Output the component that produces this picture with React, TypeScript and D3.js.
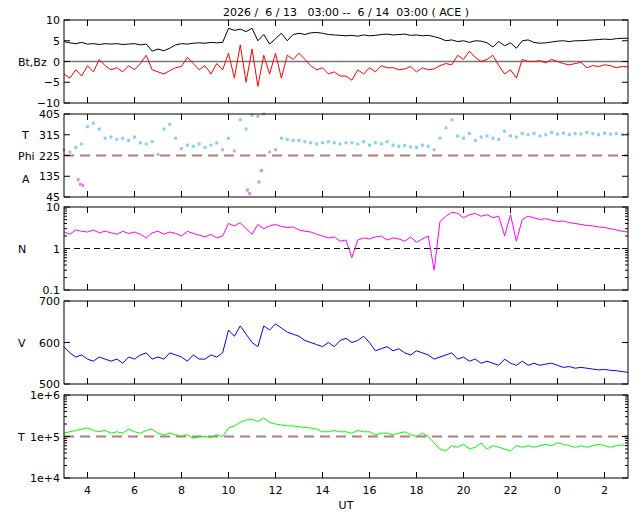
import * as d3 from 'd3';

// 15-minute samples from 03:00 (6/13) to 03:00 (6/14), hours as 3..27
const times = d3.range(97).map(i => 3 + i * 0.25);

const bt = [
  4.8, 4.5, 4.3, 4.6, 4.2, 4.3, 4.1, 4.3,
  4.2, 4.3, 4.1, 4.2, 4.3, 4.0, 4.2, 2.5,
  3.0, 2.6, 3.2, 4.0, 4.3, 4.2, 4.4, 4.5,
  4.4, 4.6, 4.5, 4.6, 8.0, 7.5, 7.8, 7.2,
  8.0, 5.0, 6.5, 4.2, 5.5, 6.8, 5.0, 6.5,
  6.8, 6.5, 6.9, 7.0, 6.8, 6.5, 6.4, 6.3,
  6.2, 6.3, 6.1, 6.4, 6.2, 6.3, 6.5, 6.6,
  6.4, 6.5, 6.6, 6.3, 6.4, 6.2, 6.3, 6.0,
  5.6, 5.0, 5.2, 4.8, 5.0, 4.6, 5.0, 4.9,
  4.5, 3.5, 4.8, 3.8, 4.5, 3.2, 5.0, 5.2,
  4.6, 4.4, 4.5, 4.7, 4.9, 5.0, 4.8, 5.0,
  5.0, 5.1, 5.2, 5.3, 5.4, 5.3, 5.5, 5.6, 5.6,
];

const bz = [
  -3, -4, -2, -3.5, -1, -2.5, 0.5, -1,
  -2, -1.5, -2.5, -1, -2, -0.5, 1.5, -2,
  -2.5, -3, -2.2, -1.5, -1.2, 1.0, -0.5, -2,
  -1, -3, -0.5, -2, 2, -4, 4, -5,
  3, -6, 1.5, -3, 2, -4, 1.5, 0.5,
  2, 0.5, -1, -2, -1.5, -3, -2.5, -3.5,
  -3.5, -4.5, -2, -3, -1.5, -2.5, -1, -1.5,
  -1.5, -2, -1.8, -1.2, -2.5, -1.5, -2, -1.8,
  -1, -0.5, -0.8, 1.5, 0.5, 2.5, 1, 0,
  0.5, 1.5, -1, -3, -2, -4, 0.5, 0,
  0, 0.2, -0.3, 0.5, 0, -0.5, -0.8, -0.5,
  -0.2, -1.5, -1, -1.2, -0.8, -1, -1.5, -1.2, -1.3,
];

const phi = [
  250, 240, 260, 275, 350, 365, 340, 300,
  305, 295, 300, 290, 305, 280, 275, 285,
  230, 340, 360, 300, 255, 270, 265, 275,
  260, 270, 280, 250, 300, 245, 380, 340,
  400, 395, 405, 240, 250, 300, 295, 290,
  290, 285, 280, 275, 280, 285, 280, 275,
  280, 280, 275, 285, 270, 280, 275, 285,
  270, 265, 268, 262, 260, 270, 265, 250,
  300, 345, 380, 310, 300, 320, 290, 305,
  310, 300, 295, 330, 310, 305, 320, 315,
  320, 310, 315, 325, 318, 322, 315, 320,
  318, 325, 320, 315, 322, 318, 320, 315, 318,
];
// extra toward-sector samples
const phiExtraT = [3.6, 3.7, 3.8, 10.8, 10.9, 11.3, 11.4];
const phiExtraV = [120, 100, 95, 75, 60, 110, 160];

const dens = [
  2.5, 2.2, 2.8, 2.6, 2.5, 2.8, 2.4, 2.6,
  2.4, 2.2, 2.6, 2.3, 2.5, 2.2, 1.8, 2.4,
  2.6, 2.2, 2.5, 2.3, 2.0, 2.6, 2.3, 2.1,
  1.9, 2.2, 1.8, 2.0, 4.0, 3.5, 4.2, 3.0,
  2.2, 3.8, 3.0, 3.5, 3.8, 3.4, 3.2, 3.3,
  2.8, 2.6, 2.5, 2.2, 2.0, 1.8, 1.9, 1.5,
  1.6, 0.6, 1.6, 1.8, 1.7, 1.9, 2.0, 1.6,
  1.8, 1.7, 1.5, 1.9, 1.4, 1.7, 2.0, 0.3,
  4.5, 6, 7.5, 7, 5.5, 6.5, 7, 6,
  6.5, 5.5, 6, 2, 6.5, 1.5, 5, 6,
  5.5, 5, 5.2, 4.8, 4.5, 4.6, 4.2, 4,
  3.8, 3.6, 3.5, 3.3, 3.2, 3.0, 2.8, 2.6, 2.5,
];

const speed = [
  590, 575, 565, 570, 560, 555, 565, 560,
  555, 560, 550, 565, 560, 570, 575, 560,
  565, 560, 575, 570, 565, 555, 570, 560,
  560, 570, 565, 575, 630, 615, 640, 620,
  600, 590, 640, 630, 645, 635, 625, 620,
  615, 605, 600, 595, 590, 600, 590, 605,
  610, 600, 605, 615, 600, 580, 585, 590,
  580, 585, 575, 570, 580, 575, 570, 560,
  565, 570, 575, 560, 565, 555, 560, 550,
  555, 550, 545, 560, 550, 545, 555, 545,
  550, 545, 548, 550, 545, 540, 542, 538,
  540, 538, 536, 534, 535, 533, 532, 530, 528,
];

const temp = [
  1.2e5, 1.3e5, 1.4e5, 1.5e5, 1.6e5, 1.4e5, 1.3e5, 1.4e5,
  1.2e5, 1.3e5, 1.2e5, 1.5e5, 1.3e5, 1.2e5, 1.4e5, 1.5e5,
  1.2e5, 1.1e5, 1.2e5, 1.1e5, 1.0e5, 1.1e5, 0.9e5, 1.0e5,
  1.0e5, 0.95e5, 1.1e5, 1.0e5, 1.6e5, 1.8e5, 2.2e5, 2.5e5,
  2.6e5, 2.3e5, 2.8e5, 2.2e5, 2.0e5, 1.9e5, 1.8e5, 1.8e5,
  1.7e5, 1.65e5, 1.6e5, 1.5e5, 1.3e5, 1.3e5, 1.4e5, 1.3e5,
  1.3e5, 1.2e5, 1.4e5, 1.3e5, 1.3e5, 1.1e5, 1.2e5, 1.2e5,
  1.1e5, 1.2e5, 1.3e5, 1.1e5, 1.0e5, 1.2e5, 1.0e5, 0.7e5,
  0.5e5, 0.45e5, 0.6e5, 0.55e5, 0.65e5, 0.5e5, 0.55e5, 0.7e5,
  0.5e5, 0.6e5, 0.55e5, 0.5e5, 0.45e5, 0.6e5, 0.55e5, 0.6e5,
  0.55e5, 0.6e5, 0.65e5, 0.6e5, 0.7e5, 0.65e5, 0.6e5, 0.55e5,
  0.6e5, 0.55e5, 0.6e5, 0.65e5, 0.6e5, 0.55e5, 0.6e5, 0.62e5, 0.6e5,
];

const hourTicks = [4, 6, 8, 10, 12, 14, 16, 18, 20, 22, 24, 26];
const hourLabel = (h: number) => String(h % 24);

const left = 64, right = 628;
const font = 'DejaVu Sans, sans-serif';
const x = d3.scaleLinear().domain([3, 27]).range([left, right]);

function Frame({ top, bottom }: { top: number; bottom: number }) {
  return (
    <g>
      <rect x={left} y={top} width={right - left} height={bottom - top} fill="none" stroke="#000" />
      {hourTicks.map(h => (
        <g key={h}>
          <line x1={x(h)} x2={x(h)} y1={top} y2={top + 6} stroke="#000" />
          <line x1={x(h)} x2={x(h)} y1={bottom} y2={bottom - 6} stroke="#000" />
        </g>
      ))}
    </g>
  );
}

function YTicks({ scale, ticks, labels }: { scale: (v: number) => number; ticks: number[]; labels: string[] }) {
  return (
    <g>
      {ticks.map((t, i) => (
        <g key={i}>
          <line x1={left} x2={left + 6} y1={scale(t)} y2={scale(t)} stroke="#000" />
          <line x1={right} x2={right - 6} y1={scale(t)} y2={scale(t)} stroke="#000" />
          <text x={left - 4} y={scale(t) + 4} textAnchor="end" fontSize={11} fontFamily={font}>{labels[i]}</text>
        </g>
      ))}
    </g>
  );
}

function LogMinor({ scale, decades }: { scale: (v: number) => number; decades: number[] }) {
  const ms: number[] = [];
  decades.forEach(d => { for (let k = 2; k <= 9; k++) ms.push(d * k); });
  return (
    <g>
      {ms.map((m, i) => (
        <g key={i}>
          <line x1={left} x2={left + 3} y1={scale(m)} y2={scale(m)} stroke="#000" />
          <line x1={right} x2={right - 3} y1={scale(m)} y2={scale(m)} stroke="#000" />
        </g>
      ))}
    </g>
  );
}

export default function App() {
  const y1 = d3.scaleLinear().domain([-10, 10]).range([103, 20]);
  const y2 = d3.scaleLinear().domain([45, 405]).range([197, 114]);
  const y3 = d3.scaleLog().domain([0.1, 10]).range([290, 207]);
  const y4 = d3.scaleLinear().domain([500, 700]).range([384, 301]);
  const y5 = d3.scaleLog().domain([1e4, 1e6]).range([478, 395]);

  const ln = (ys: number[], sc: (v: number) => number) =>
    d3.line<number>().x((_, i) => x(times[i])).y(v => sc(v))(ys) || '';

  const phiColor = (v: number) => (v < 180 ? '#ee82ee' : v < 255 || v > 390 ? '#bbbbbb' : '#87cefa');

  return (
    <svg width={640} height={512} style={{ position: 'absolute', left: 0, top: 0, background: '#fff' }}>
      <rect width={640} height={512} fill="#fff" />
      <text x={346} y={16} textAnchor="middle" fontSize={11} fontFamily={font} xmlSpace="preserve">
        {'2026 /  6 / 13   03:00 --  6 / 14  03:00 ( ACE )'}
      </text>

      {/* Panel 1: Bt, Bz */}
      <line x1={left} x2={right} y1={y1(0)} y2={y1(0)} stroke="#777" strokeWidth={1.5} />
      <path d={ln(bz, y1)} fill="none" stroke="#ff0000" strokeWidth={1} />
      <path d={ln(bt, y1)} fill="none" stroke="#000" strokeWidth={1} />
      <Frame top={20} bottom={103} />
      <YTicks scale={y1} ticks={[10, 5, 0, -5, -10]} labels={['10', '5', '0', '−5', '−10']} />
      <text x={18} y={66} fontSize={11} fontFamily={font}>Bt,Bz</text>

      {/* Panel 2: Phi */}
      <line x1={left} x2={right} y1={y2(225)} y2={y2(225)} stroke="#b87b7b" strokeWidth={2} strokeDasharray="10,6" />
      {phi.map((v, i) => (
        <rect key={i} x={x(times[i]) - 1.5} y={y2(v) - 1.5} width={3} height={3} fill={phiColor(v)} />
      ))}
      {phiExtraV.map((v, i) => (
        <rect key={'e' + i} x={x(phiExtraT[i]) - 1.5} y={y2(v) - 1.5} width={3} height={3} fill={phiColor(v)} />
      ))}
      <Frame top={114} bottom={197} />
      <YTicks scale={y2} ticks={[405, 315, 225, 135, 45]} labels={['405', '315', '225', '135', '45']} />
      <text x={22} y={139} fontSize={11} fontFamily={font}>T</text>
      <text x={18} y={160} fontSize={11} fontFamily={font}>Phi</text>
      <text x={22} y={183} fontSize={11} fontFamily={font}>A</text>

      {/* Panel 3: N */}
      <line x1={left} x2={right} y1={y3(1)} y2={y3(1)} stroke="#000" strokeDasharray="6,4" />
      <path d={ln(dens, y3)} fill="none" stroke="#ff00ff" strokeWidth={1} />
      <Frame top={207} bottom={290} />
      <LogMinor scale={y3} decades={[0.1, 1]} />
      <YTicks scale={y3} ticks={[10, 1, 0.1]} labels={['10', '1', '0.1']} />
      <text x={18} y={253} fontSize={11} fontFamily={font}>N</text>

      {/* Panel 4: V */}
      <path d={ln(speed, y4)} fill="none" stroke="#0000ff" strokeWidth={1} />
      <Frame top={301} bottom={384} />
      <YTicks scale={y4} ticks={[700, 600, 500]} labels={['700', '600', '500']} />
      <text x={18} y={347} fontSize={11} fontFamily={font}>V</text>

      {/* Panel 5: T */}
      <line x1={left} x2={right} y1={y5(1e5)} y2={y5(1e5)} stroke="#b87b7b" strokeWidth={2} strokeDasharray="10,6" />
      <path d={ln(temp, y5)} fill="none" stroke="#00ff00" strokeWidth={1} />
      <Frame top={395} bottom={478} />
      <LogMinor scale={y5} decades={[1e4, 1e5]} />
      <YTicks scale={y5} ticks={[1e6, 1e5, 1e4]} labels={['1e+6', '1e+5', '1e+4']} />
      <text x={18} y={441} fontSize={11} fontFamily={font}>T</text>

      {hourTicks.map(h => (
        <text key={h} x={x(h)} y={494} textAnchor="middle" fontSize={11} fontFamily={font}>{hourLabel(h)}</text>
      ))}
      <text x={346} y={509} textAnchor="middle" fontSize={11} fontFamily={font}>UT</text>
    </svg>
  );
}
